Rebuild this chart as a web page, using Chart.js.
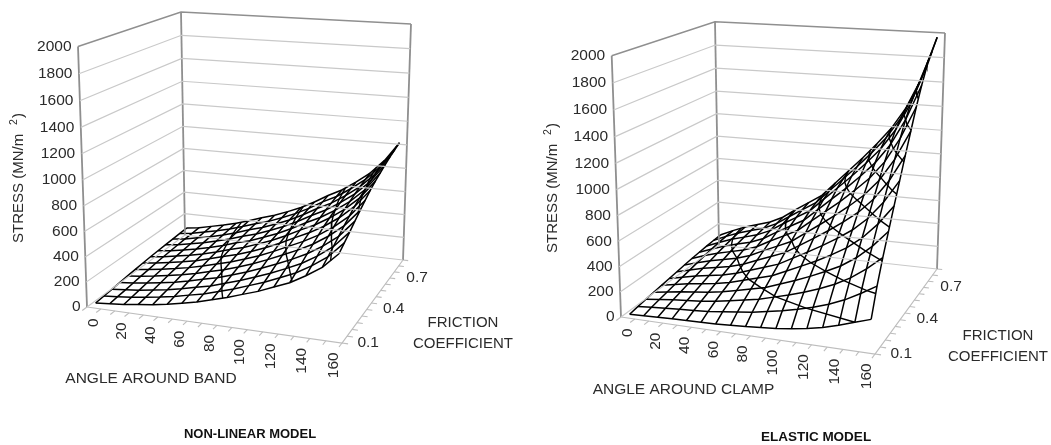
<!DOCTYPE html>
<html>
<head>
<meta charset="utf-8">
<title>Stress around band and clamp</title>
<script src="https://cdn.jsdelivr.net/npm/chart.js@4"></script>
<style>
	html, body { margin: 0; padding: 0; background: #fff; overflow: hidden; }
	canvas { position: absolute; top: 0; filter: blur(0.45px); }
	#band_chart { left: 0; }
	#clamp_chart { left: 530px; }
</style>
</head>
<body>
<canvas id="band_chart" width="530" height="445"></canvas>
<canvas id="clamp_chart" width="521" height="445"></canvas>
<script>
var angles = [0, 10, 20, 30, 40, 50, 60, 70, 80, 90, 100, 110, 120, 130, 140, 150, 160];
var frictions = [0.1, 0.15, 0.2, 0.25, 0.3, 0.35, 0.4, 0.45, 0.5, 0.55, 0.6, 0.65, 0.7];
var stressTicks = [0, 200, 400, 600, 800, 1000, 1200, 1400, 1600, 1800, 2000];
var angleTicks = [0, 20, 40, 60, 80, 100, 120, 140, 160];
var frictionTicks = [0.1, 0.4, 0.7];

// one row per friction coefficient, one value per angle
var nonLinearStress = [
	[20, 30, 40, 55, 70, 90, 115, 140, 175, 210, 250, 290, 340, 390, 460, 540, 660],
	[27, 38, 49, 65, 82, 103, 130, 156, 192, 228, 270, 313, 364, 417, 489, 573, 697],
	[34, 45, 58, 75, 93, 116, 144, 171, 208, 246, 290, 336, 388, 444, 518, 606, 734],
	[42, 53, 68, 86, 106, 130, 160, 188, 226, 266, 312, 361, 414, 474, 550, 642, 775],
	[49, 62, 78, 97, 118, 145, 176, 205, 244, 286, 334, 387, 441, 503, 582, 679, 815],
	[56, 69, 87, 107, 130, 158, 190, 221, 261, 304, 354, 410, 465, 530, 611, 712, 852],
	[63, 77, 96, 117, 141, 171, 205, 236, 277, 322, 374, 433, 489, 557, 640, 745, 889],
	[69, 83, 103, 125, 150, 181, 217, 249, 291, 336, 390, 451, 508, 579, 663, 771, 919],
	[74, 88, 109, 132, 159, 190, 227, 259, 302, 349, 404, 467, 525, 598, 683, 794, 945],
	[79, 93, 116, 139, 167, 199, 237, 270, 314, 361, 418, 483, 542, 617, 704, 817, 971],
	[83, 98, 121, 145, 174, 207, 246, 280, 324, 372, 430, 497, 556, 633, 721, 837, 993],
	[87, 101, 126, 150, 179, 214, 253, 287, 332, 381, 440, 509, 568, 647, 736, 854, 1012],
	[90, 105, 130, 155, 185, 220, 260, 295, 340, 390, 450, 520, 580, 660, 750, 870, 1030]
];

var elasticStress = [
	[10, 14, 18, 22, 25, 28, 32, 38, 45, 55, 65, 80, 100, 125, 160, 200, 240],
	[23, 33, 42, 49, 56, 65, 79, 93, 108, 131, 154, 182, 215, 254, 306, 372, 446],
	[34, 48, 61, 72, 82, 97, 117, 139, 161, 195, 229, 267, 311, 362, 428, 515, 618],
	[44, 62, 79, 93, 106, 125, 152, 180, 208, 252, 296, 344, 398, 458, 538, 643, 773],
	[54, 76, 97, 113, 129, 153, 187, 221, 255, 309, 363, 420, 484, 555, 648, 772, 928],
	[64, 90, 115, 134, 152, 181, 222, 262, 302, 366, 430, 497, 570, 652, 758, 901, 1083],
	[74, 104, 132, 154, 176, 209, 257, 303, 350, 423, 497, 573, 657, 749, 868, 1029, 1238],
	[84, 119, 150, 175, 199, 237, 292, 344, 397, 480, 564, 650, 743, 845, 977, 1158, 1392],
	[94, 133, 168, 195, 223, 265, 327, 385, 444, 538, 631, 726, 830, 942, 1087, 1287, 1547],
	[102, 145, 183, 214, 243, 290, 358, 422, 486, 588, 691, 794, 906, 1028, 1185, 1401, 1685],
	[110, 156, 197, 229, 262, 312, 385, 454, 523, 633, 743, 854, 974, 1103, 1270, 1501, 1805],
	[116, 164, 207, 241, 275, 328, 404, 477, 549, 665, 780, 896, 1022, 1157, 1331, 1573, 1891],
	[120, 170, 215, 250, 285, 340, 420, 495, 570, 690, 810, 930, 1060, 1200, 1380, 1630, 1975]
];

function lerp(a, b, t) {
	return a + (b - a) * t;
}

// box corners on the canvas, [x, y] for floor and top of each vertical edge
function boxPoint(box, u, v, w) {
	var fu = u - 0.08 * u * (1 - u);
	var fv = v + 0.08 * v * (1 - v);
	var fw = w - 0.05 * w * (1 - w);
	var out = {};
	['x', 'y'].forEach(function (k, i) {
		var low = lerp(lerp(box.frontLeft[i], box.frontRight[i], fu), lerp(box.backLeft[i], box.backRight[i], fu), fv);
		var high = lerp(lerp(box.frontLeftTop[i], box.frontRightTop[i], fu), lerp(box.backLeftTop[i], box.backRightTop[i], fu), fv);
		out[k] = lerp(low, high, fw);
	});
	return out;
}

// surface values sit a little inside the floor
function surfacePoint(box, angle, friction, stress) {
	var u = (angle + 4) / 168;
	var v = 0.03 + (friction - 0.1) / 0.6 * 0.94;
	return boxPoint(box, u, v, stress / 2000);
}

function lineSet(points, color, width) {
	return {
		data: points,
		showLine: true,
		borderColor: color,
		borderWidth: width,
		pointRadius: 0,
		tension: 0
	};
}

// walk the rows and the last column to find where the surface crosses a level
function contourPoints(box, rows, level) {
	var points = [];
	for (var r = rows.length - 1; r >= 0; r--) {
		for (var c = 0; c < angles.length - 1; c++) {
			if (rows[r][c] <= level && rows[r][c + 1] > level) {
				var t = (level - rows[r][c]) / (rows[r][c + 1] - rows[r][c]);
				points.push(surfacePoint(box, lerp(angles[c], angles[c + 1], t), frictions[r], level));
			}
		}
		var last = angles.length - 1;
		if (r > 0 && rows[r][last] > level && rows[r - 1][last] <= level) {
			var e = (level - rows[r - 1][last]) / (rows[r][last] - rows[r - 1][last]);
			points.push(surfacePoint(box, angles[last], lerp(frictions[r - 1], frictions[r], e), level));
		}
	}
	return points;
}

function buildDatasets(box, rows) {
	var sets = [];
	var grid = '#c9c9c9', frame = '#8f8f8f', tick = '#bdbdbd', mesh = '#000';

	stressTicks.forEach(function (s, i) {
		var w = s / 2000;
		var last = i == stressTicks.length - 1;
		sets.push(lineSet([boxPoint(box, 0, 0, w), boxPoint(box, 0, 1, w), boxPoint(box, 1, 1, w)], last ? frame : grid, last ? 1.5 : 1.2));
	});
	sets.push(lineSet([boxPoint(box, 0, 0, 0), boxPoint(box, 0, 0, 1)], frame, 1.8));
	sets.push(lineSet([boxPoint(box, 0, 1, 0), boxPoint(box, 0, 1, 1)], frame, 1.8));
	sets.push(lineSet([boxPoint(box, 1, 1, 0), boxPoint(box, 1, 1, 1)], frame, 1.8));

	// floor edges and their tick marks
	sets.push(lineSet([boxPoint(box, 0, 0, 0), boxPoint(box, 1, 0, 0), boxPoint(box, 1, 1, 0)], tick, 1.2));
	for (var i = 0; i <= angles.length; i++) {
		var ua = i / angles.length;
		sets.push(lineSet([boxPoint(box, ua, 0, 0), boxPoint(box, ua, -0.045, 0)], tick, 1.1));
	}
	for (var j = 0; j <= frictions.length; j++) {
		var vf = j / frictions.length;
		sets.push(lineSet([boxPoint(box, 1, vf, 0), boxPoint(box, 1.022, vf, 0)], tick, 1.1));
	}

	rows.forEach(function (row, r) {
		sets.push(lineSet(row.map(function (s, c) {
			return surfacePoint(box, angles[c], frictions[r], s);
		}), mesh, 1.5));
	});
	angles.forEach(function (a, c) {
		sets.push(lineSet(rows.map(function (row, r) {
			return surfacePoint(box, a, frictions[r], row[c]);
		}), mesh, 1.5));
	});
	stressTicks.slice(1, -1).forEach(function (level) {
		var pts = contourPoints(box, rows, level);
		if (pts.length > 1) {
			sets.push(lineSet(pts, mesh, 1.4));
		}
	});
	return sets;
}

function surfaceLabels(box, text) {
	return {
		id: 'surfaceLabels',
		afterDraw: function (chart) {
			var ctx = chart.ctx;
			ctx.save();
			ctx.fillStyle = '#2b2b2b';
			ctx.font = "15.5px 'Liberation Sans', Arial, sans-serif";

			ctx.textAlign = 'right';
			ctx.textBaseline = 'middle';
			stressTicks.forEach(function (s) {
				var p = boxPoint(box, 0, 0, s / 2000);
				ctx.fillText(String(s), p.x - 6.5, p.y);
			});

			angleTicks.forEach(function (a) {
				var p = boxPoint(box, (a / 10 + 0.5) / angles.length, 0, 0);
				ctx.save();
				ctx.translate(p.x, p.y + 10.5);
				ctx.rotate(-Math.PI / 2);
				ctx.fillText(String(a), 0, 0);
				ctx.restore();
			});

			ctx.textAlign = 'center';
			frictionTicks.forEach(function (f) {
				var v = ((f - 0.1) / 0.05 + 0.5) / frictions.length;
				var p = boxPoint(box, 1, v, 0);
				ctx.fillText(f.toFixed(1), p.x + 24 - 8 * v, p.y + 3 + 12 * v);
			});

			ctx.fillText(text.angle[0], text.angle[1], text.angle[2]);
			ctx.font = "15px 'Liberation Sans', Arial, sans-serif";
			ctx.fillText('FRICTION', text.friction[0], text.friction[1]);
			ctx.fillText('COEFFICIENT', text.friction[0], text.friction[1] + 20.5);

			ctx.save();
			ctx.translate(text.stress[0], text.stress[1]);
			ctx.rotate(-Math.PI / 2);
			ctx.textAlign = 'left';
			ctx.textBaseline = 'alphabetic';
			ctx.fillText('STRESS (MN/m', 0, 0);
			ctx.fillText(')', 125, 0);
			ctx.font = "10.5px 'Liberation Sans', Arial, sans-serif";
			ctx.fillText('2', 118, -6);
			ctx.restore();

			ctx.font = "bold " + text.title[3] + "px 'Liberation Sans', Arial, sans-serif";
			ctx.fillStyle = '#111';
			ctx.fillText(text.title[0], text.title[1], text.title[2]);
			ctx.restore();
		}
	};
}

function renderSurface(canvasId, box, rows, text) {
	var canvas = document.getElementById(canvasId);
	return new Chart(canvas.getContext('2d'), {
		type: 'scatter',
		data: { datasets: buildDatasets(box, rows) },
		options: {
			responsive: false,
			animation: false,
			layout: { padding: 0 },
			scales: {
				x: { type: 'linear', min: 0, max: canvas.width, display: false },
				y: { type: 'linear', min: 0, max: canvas.height, reverse: true, display: false }
			},
			plugins: {
				legend: { display: false },
				tooltip: { enabled: false }
			}
		},
		plugins: [surfaceLabels(box, text)]
	});
}

renderSurface('band_chart', {
	frontLeft: [87, 307], frontLeftTop: [78, 46.5],
	backLeft: [185, 235], backLeftTop: [181, 12],
	frontRight: [342, 343], frontRightTop: [347, 73],
	backRight: [403, 260], backRightTop: [411, 24]
}, nonLinearStress, {
	angle: ['ANGLE AROUND BAND', 151, 379],
	friction: [463, 323],
	stress: [23, 243],
	title: ['NON-LINEAR MODEL', 250, 434, 13]
});

renderSurface('clamp_chart', {
	frontLeft: [91, 317], frontLeftTop: [81.7, 55.7],
	backLeft: [189, 245], backLeftTop: [185, 21.7],
	frontRight: [345, 354], frontRightTop: [351, 83],
	backRight: [407, 269], backRightTop: [415, 33]
}, elasticStress, {
	angle: ['ANGLE AROUND CLAMP', 153.5, 390],
	friction: [468, 336],
	stress: [27, 253],
	title: ['ELASTIC MODEL', 286, 437, 13.5]
});
</script>
</body>
</html>
